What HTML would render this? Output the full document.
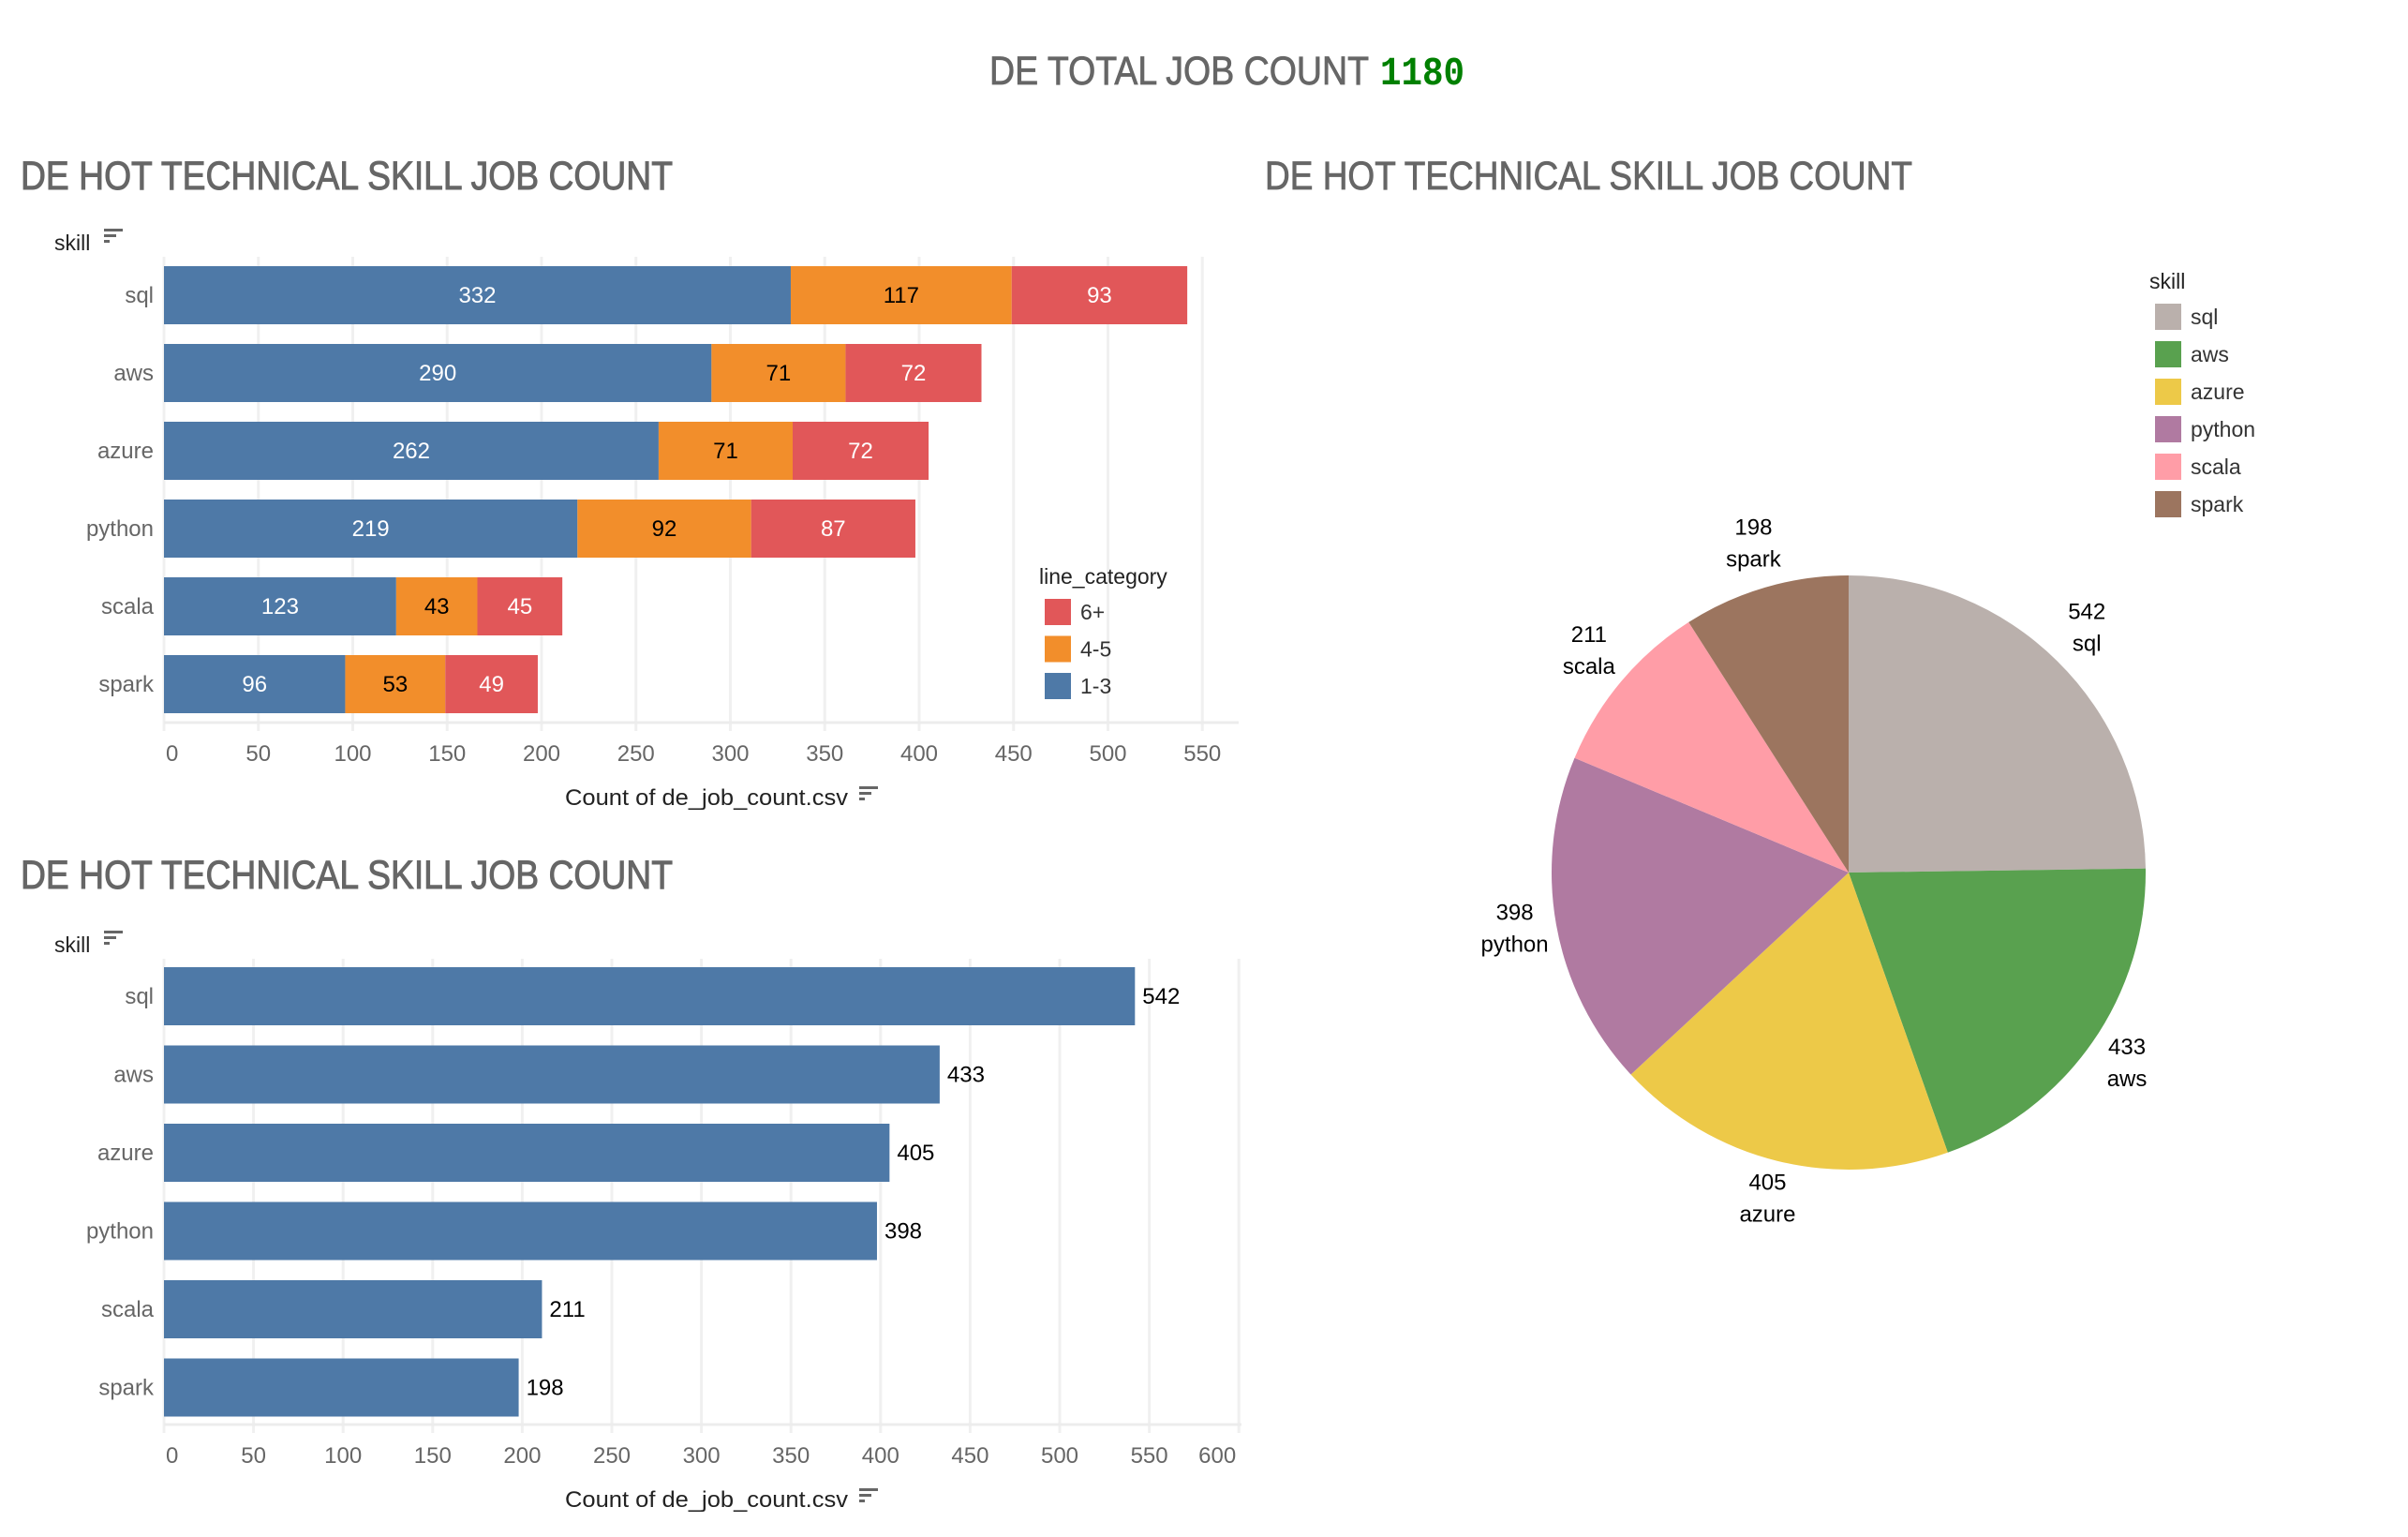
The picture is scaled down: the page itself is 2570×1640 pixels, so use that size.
<!DOCTYPE html>
<html><head><meta charset="utf-8">
<style>
html,body{margin:0;padding:0;background:#fff;}
svg{display:block;font-family:"Liberation Sans",sans-serif;}
</style></head>
<body>
<svg id="root" width="2570" height="1640" viewBox="0 0 2570 1640">
  <text x="1056" y="90" font-size="43" fill="#666" stroke="#666" stroke-width="0.8" textLength="405" lengthAdjust="spacingAndGlyphs">DE TOTAL JOB COUNT</text>
  <text x="1473" y="90" font-size="43" font-weight="bold" fill="#008000" font-family="Liberation Mono, monospace" textLength="90" lengthAdjust="spacingAndGlyphs">1180</text>

  <text x="22" y="202" font-size="43" fill="#666" stroke="#666" stroke-width="1" textLength="696" lengthAdjust="spacingAndGlyphs">DE HOT TECHNICAL SKILL JOB COUNT</text>
  <text x="22" y="948" font-size="43" fill="#666" stroke="#666" stroke-width="1" textLength="696" lengthAdjust="spacingAndGlyphs">DE HOT TECHNICAL SKILL JOB COUNT</text>
  <text x="1350" y="202" font-size="43" fill="#666" stroke="#666" stroke-width="0.8" textLength="691" lengthAdjust="spacingAndGlyphs">DE HOT TECHNICAL SKILL JOB COUNT</text>

  <g id="c1"></g>
  <g id="c2"></g>
  <g id="c3"></g>
</svg>
<script>
const skills = ["sql","aws","azure","python","scala","spark"];
const seg13 = [332,290,262,219,123,96];
const seg45 = [117,71,71,92,43,53];
const seg6p = [93,72,72,87,45,49];
const totals = [542,433,405,398,211,198];
const ticks1 = [0,50,100,150,200,250,300,350,400,450,500,550];
const ticks2 = [0,50,100,150,200,250,300,350,400,450,500,550,600];
const catLabels = ["6+","4-5","1-3"];
const pieColors = ["#bab0ac","#59a14f","#edc948","#b07aa1","#ff9da7","#9c755f"];

const NS="http://www.w3.org/2000/svg";
function mk(parent,tag,attrs,text){
  const e=document.createElementNS(NS,tag);
  for(const k in attrs)e.setAttribute(k,attrs[k]);
  if(text!==undefined)e.textContent=text;
  parent.appendChild(e);return e;
}
function sortIcon(g,x,y){
  mk(g,'rect',{x:x,y:y,width:20,height:3,fill:'#666'});
  mk(g,'rect',{x:x,y:y+6,width:13,height:3,fill:'#666'});
  mk(g,'rect',{x:x,y:y+12,width:6,height:3,fill:'#666'});
}
function axisChart(g,opt){
  const xs=v=>opt.x0+v*opt.k;
  const ys=i=>opt.top+i*opt.step;
  opt.ticks.forEach((t,i)=>{
    const l=mk(g,'line',{x1:xs(t),x2:xs(t),y1:opt.gridTop,y2:opt.axisY+9,stroke:'#f0f0f0','stroke-width':3});
    
    
    let anchor='middle',tx=xs(t);
    if(i===0){anchor='start';tx=xs(t)+2;}
    if(opt.lastEnd && i===opt.ticks.length-1){anchor='end';tx=xs(t)-3;}
    const tl=mk(g,'text',{x:tx,y:opt.axisY+41,'font-size':24,fill:'#666','text-anchor':anchor},String(t));
    
    
  });
  const ax=mk(g,'line',{x1:opt.x0,x2:opt.right,y1:opt.axisY,y2:opt.axisY,stroke:'#ececec','stroke-width':3});
  
  
  const at=mk(g,'text',{x:opt.titleX-302,y:opt.axisY+88,'font-size':24,fill:'#222',textLength:302,lengthAdjust:'spacingAndGlyphs'},'Count of de_job_count.csv');
  
  
  sortIcon(g,opt.titleX+12,opt.axisY+68);
  const sk=mk(g,'text',{x:58,y:opt.gridTop-7,'font-size':23,fill:'#222'},'skill');
  
  
  sortIcon(g,111,opt.gridTop-30);
  skills.forEach((s,i)=>{
    const t=mk(g,'text',{x:164,y:ys(i)+opt.h/2+8,'font-size':24,fill:'#666','text-anchor':'end'},s);
    
    
  });
  return {xs,ys};
}
(function(){
  const g=document.getElementById('c1');
  const o={x0:175,k:2.015,top:284,step:83,h:62,gridTop:274,axisY:771,right:1322,ticks:ticks1,titleX:905,lastEnd:false};
  const {xs,ys}=axisChart(g,o);
  const segs=[seg13,seg45,seg6p], cols=["#4e79a7","#f28e2b","#e15759"], tc=["#fff","#000","#fff"], names=["1-3","4-5","6+"];
  skills.forEach((s,i)=>{
    let acc=0;
    segs.forEach((arr,j)=>{
      const v=arr[i];
      const r=mk(g,'rect',{x:xs(acc),y:ys(i),width:xs(acc+v)-xs(acc),height:o.h,fill:cols[j]});
      
      
      const t=mk(g,'text',{x:(xs(acc)+xs(acc+v))/2,y:ys(i)+o.h/2+8,'font-size':24,fill:tc[j],'text-anchor':'middle'},String(v));
      
      
      acc+=v;
    });
  });
  const lt=mk(g,'text',{x:1109,y:623,'font-size':23,fill:'#222'},'line_category');
  
  
  const lc=["#e15759","#f28e2b","#4e79a7"];
  catLabels.forEach((c,i)=>{
    const y=639+i*39.5;
    const r=mk(g,'rect',{x:1115,y:y,width:28,height:28,fill:lc[i]});
    
    
    const t=mk(g,'text',{x:1153,y:y+22,'font-size':23,fill:'#333'},c);
    
    
  });
})();
(function(){
  const g=document.getElementById('c2');
  const o={x0:175,k:1.912,top:1032,step:83.5,h:62,gridTop:1023,axisY:1520,right:1325,ticks:ticks2,titleX:905,lastEnd:true};
  const {xs,ys}=axisChart(g,o);
  skills.forEach((s,i)=>{
    const r=mk(g,'rect',{x:xs(0),y:ys(i),width:xs(totals[i])-xs(0),height:o.h,fill:'#4e79a7'});
    
    
    const t=mk(g,'text',{x:xs(totals[i])+8,y:ys(i)+o.h/2+8,'font-size':24,fill:'#000'},String(totals[i]));
    
    
  });
})();
(function(){
  const g=document.getElementById('c3');
  const cx=1973,cy=931,R=317,LR=362;
  const sum=totals.reduce((a,b)=>a+b,0);
  let a0=0;
  totals.forEach((v,i)=>{
    const a1=a0+v/sum*2*Math.PI;
    const p=(a)=>[cx+R*Math.sin(a),cy-R*Math.cos(a)];
    const [x0,y0]=p(a0),[x1,y1]=p(a1);
    const large=(a1-a0)>Math.PI?1:0;
    const path=mk(g,'path',{d:`M${cx},${cy} L${x0},${y0} A${R},${R} 0 ${large} 1 ${x1},${y1} Z`,fill:pieColors[i]});
    
    
    const am=(a0+a1)/2;
    const lx=cx+LR*Math.sin(am), ly=cy-LR*Math.cos(am);
    const t1=mk(g,'text',{x:lx,y:ly-13,'font-size':24,fill:'#000','text-anchor':'middle'},String(v));
    
    
    const t2=mk(g,'text',{x:lx,y:ly+21,'font-size':24,fill:'#000','text-anchor':'middle'},skills[i]);
    
    
    a0=a1;
  });
  const lt=mk(g,'text',{x:2294,y:308,'font-size':23,fill:'#222'},'skill');
  
  
  skills.forEach((s,i)=>{
    const y=324+i*40;
    const r=mk(g,'rect',{x:2300,y:y,width:28,height:28,fill:pieColors[i]});
    
    
    const t=mk(g,'text',{x:2338,y:y+22,'font-size':23,fill:'#333'},s);
    
    
  });
})();
</script>
</body></html>
